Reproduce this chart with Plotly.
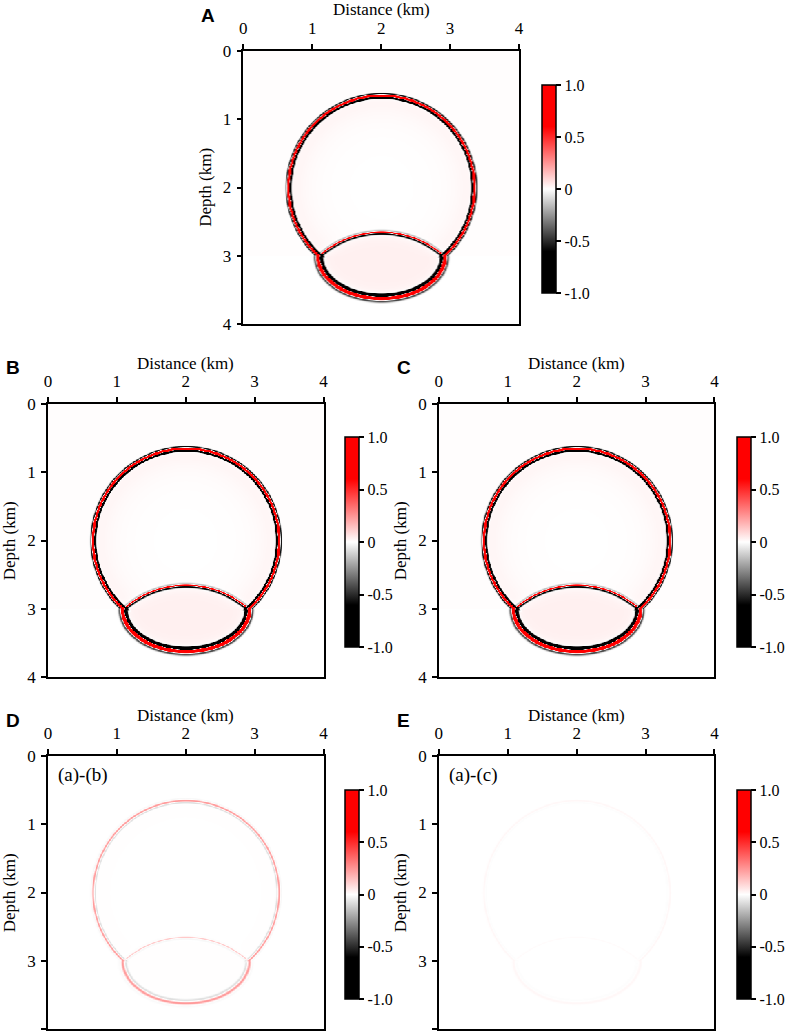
import numpy as np
import plotly.graph_objects as go

# panels and tick labels
panel_labels = ['A', 'B', 'C', 'D', 'E']
panel_notes = ['', '', '', '(a)-(b)', '(a)-(c)']
distance_ticks = [0, 1, 2, 3, 4]
depth_ticks = [0, 1, 2, 3, 4]
cbar_ticks = [-1.0, -0.5, 0.0, 0.5, 1.0]
cbar_ticktext = ['-1.0', '-0.5', '0', '0.5', '1.0']

# wavefront geometry (km)
source_xz = [2.0, 2.0]
direct_radius = 1.35
interface_depth = 3.0
transmit_axes = [0.92, 0.62]          # horizontal, vertical semi-axes
# direct, reflected, transmitted
front_amp = [3.0, 1.6, 3.0]
peak_width = [0.013, 0.009, 0.02]     # half-width of the red peak
lobe_offset = [0.03, 0.024, 0.045]    # distance of the black lobes from the peak
lobe_width = [0.011, 0.015, 0.018]
front_lead = [0.2, 0.1, 0.15]         # lobe ahead of the peak
front_tail = [0.9, 0.4, 0.9]          # lobe behind the peak
inner_tint = [0.04, 0.035]            # inside circle, inside lens
# overall amplitude and lobe strength of each panel (D, E are residuals)
panel_scale = [1.0, 1.0, 1.0, 0.08, 0.006]
panel_lobes = [1.0, 1.0, 1.0, 0.35, 0.3]

# panel placement in pixels on the 796 x 1036 page: left, right, top, bottom
W, H = 796, 1036
boxes = [(249, 531, 51, 324), (49, 331, 404, 677), (449, 731, 404, 677),
         (49, 331, 756, 1029), (449, 731, 756, 1029)]
cbars = [(544, 75, 303), (343, 427, 657), (744, 427, 657),
         (343, 780, 1009), (744, 780, 1009)]

grid = np.linspace(0, 4, 401)
X, Z = np.meshgrid(grid, grid)


def wavelet(d, k, lobes):
    w = np.exp(-(d / peak_width[k])**2)
    w -= lobes * front_lead[k] * np.exp(-((d - lobe_offset[k]) / lobe_width[k])**2)
    w -= lobes * front_tail[k] * np.exp(-((d + lobe_offset[k]) / lobe_width[k])**2)
    return front_amp[k] * w


def step(v, w=0.008):
    return 1 / (1 + np.exp(-v / w))


def snapshot(lobes):
    cx, cz = source_xz
    above = step(interface_depth - Z)
    below = 1 - above
    # direct wave
    r = np.hypot(X - cx, Z - cz)
    field = wavelet(r - direct_radius, 0, lobes) * above
    # reflected wave from the mirrored source
    r_img = np.hypot(X - cx, Z - (2 * interface_depth - cz))
    field += wavelet(r_img - direct_radius, 1, lobes) * above
    # transmitted wave (elliptical)
    a, b = transmit_axes
    dx, dz = X - cx, Z - interface_depth
    g = np.sqrt((dx / a)**2 + (dz / b)**2) + 1e-9
    grad = np.sqrt(dx**2 / a**4 + dz**2 / b**4) / g + 1e-9
    d_t = (g - 1) / grad
    field += wavelet(d_t, 2, lobes) * below
    # faint energy behind the fronts
    behind = np.clip(direct_radius - r, 0, None)
    field += (inner_tint[0] * np.exp(-behind / 0.25) * step(behind - 0.06, 0.03)
              * step(r_img - direct_radius - 0.05, 0.03) * above)
    lens = step(direct_radius - r_img - 0.06, 0.04) * above + step(-d_t - 0.08, 0.04) * below
    field += inner_tint[1] * lens
    return field


colorscale = [[0.0, '#000000'], [0.2, '#000000'], [0.5, '#ffffff'],
              [0.8, '#ff0000'], [1.0, '#ff0000']]

serif = 'Liberation Serif'
black = 'black'
fig = go.Figure()

for i, lab in enumerate(panel_labels):
    n = '' if i == 0 else str(i + 1)
    l, rgt, t, btm = boxes[i]
    cxp, ct, cb = cbars[i]
    z = snapshot(panel_lobes[i]) * panel_scale[i]
    fig.add_trace(go.Heatmap(
        x=grid, y=grid, z=z.astype(np.float32),
        zmin=-1, zmax=1, colorscale=colorscale, zsmooth='best',
        xaxis='x' + n, yaxis='y' + n, hoverinfo='skip',
        colorbar=dict(
            x=cxp / W, xanchor='left', y=1 - (ct + cb) / 2 / H, yanchor='middle',
            thickness=14, thicknessmode='pixels', len=cb - ct, lenmode='pixels',
            outlinewidth=1.5, outlinecolor=black,
            tickvals=cbar_ticks, ticktext=cbar_ticktext,
            ticks='outside', ticklen=5, tickwidth=1.5, tickcolor=black,
            tickfont=dict(family=serif, size=16, color=black),
        ),
    ))
    fig.layout['xaxis' + n] = dict(
        domain=[l / W, rgt / W], anchor='y' + n, side='top', range=[0, 4],
        tickvals=distance_ticks, ticks='outside', ticklen=5, tickwidth=1.5,
        tickcolor=black, showline=True, linewidth=1.5, linecolor=black,
        mirror=True, showgrid=False, zeroline=False, automargin=False,
        ticklabelstandoff=3,
        tickfont=dict(family=serif, size=17, color=black),
    )
    fig.layout['yaxis' + n] = dict(
        domain=[1 - btm / H, 1 - t / H], anchor='x' + n, range=[4, 0],
        tickvals=depth_ticks, ticks='outside', ticklen=5, tickwidth=1.5,
        tickcolor=black, showline=True, linewidth=1.5, linecolor=black,
        mirror=True, showgrid=False, zeroline=False, automargin=False,
        ticklabelstandoff=2,
        tickfont=dict(family=serif, size=17, color=black),
    )
    # axis titles
    fig.add_annotation(
        text='Distance (km)', xref='paper', yref='paper',
        x=(l + rgt) / 2 / W, y=1 - (t - 41) / H, xanchor='center', yanchor='middle',
        showarrow=False, font=dict(family=serif, size=17, color=black),
    )
    fig.add_annotation(
        text='Depth (km)', xref='paper', yref='paper', textangle=-90,
        x=(l - 39) / W, y=1 - (t + btm) / 2 / H, xanchor='center', yanchor='middle',
        showarrow=False, font=dict(family=serif, size=17, color=black),
    )
    # panel letter
    fig.add_annotation(
        text='<b>%s</b>' % lab, xref='paper', yref='paper',
        x=(l - 36) / W, y=1 - (t - 36) / H, xanchor='center', yanchor='middle',
        showarrow=False, font=dict(family='Liberation Sans', size=19, color=black),
    )
    if panel_notes[i]:
        fig.add_annotation(
            text=panel_notes[i], xref='x' + n, yref='y' + n, x=0.12, y=0.28,
            xanchor='left', yanchor='middle', showarrow=False,
            font=dict(family=serif, size=19, color=black),
        )

fig.update_layout(
    width=W, height=H, margin=dict(l=0, r=0, t=0, b=0),
    paper_bgcolor='white', plot_bgcolor='white', showlegend=False,
)

fig.write_html('out.html', config={'displayModeBar': False},
               post_script="document.body.style.margin='0px';"
               "document.body.style.overflow='hidden';")
